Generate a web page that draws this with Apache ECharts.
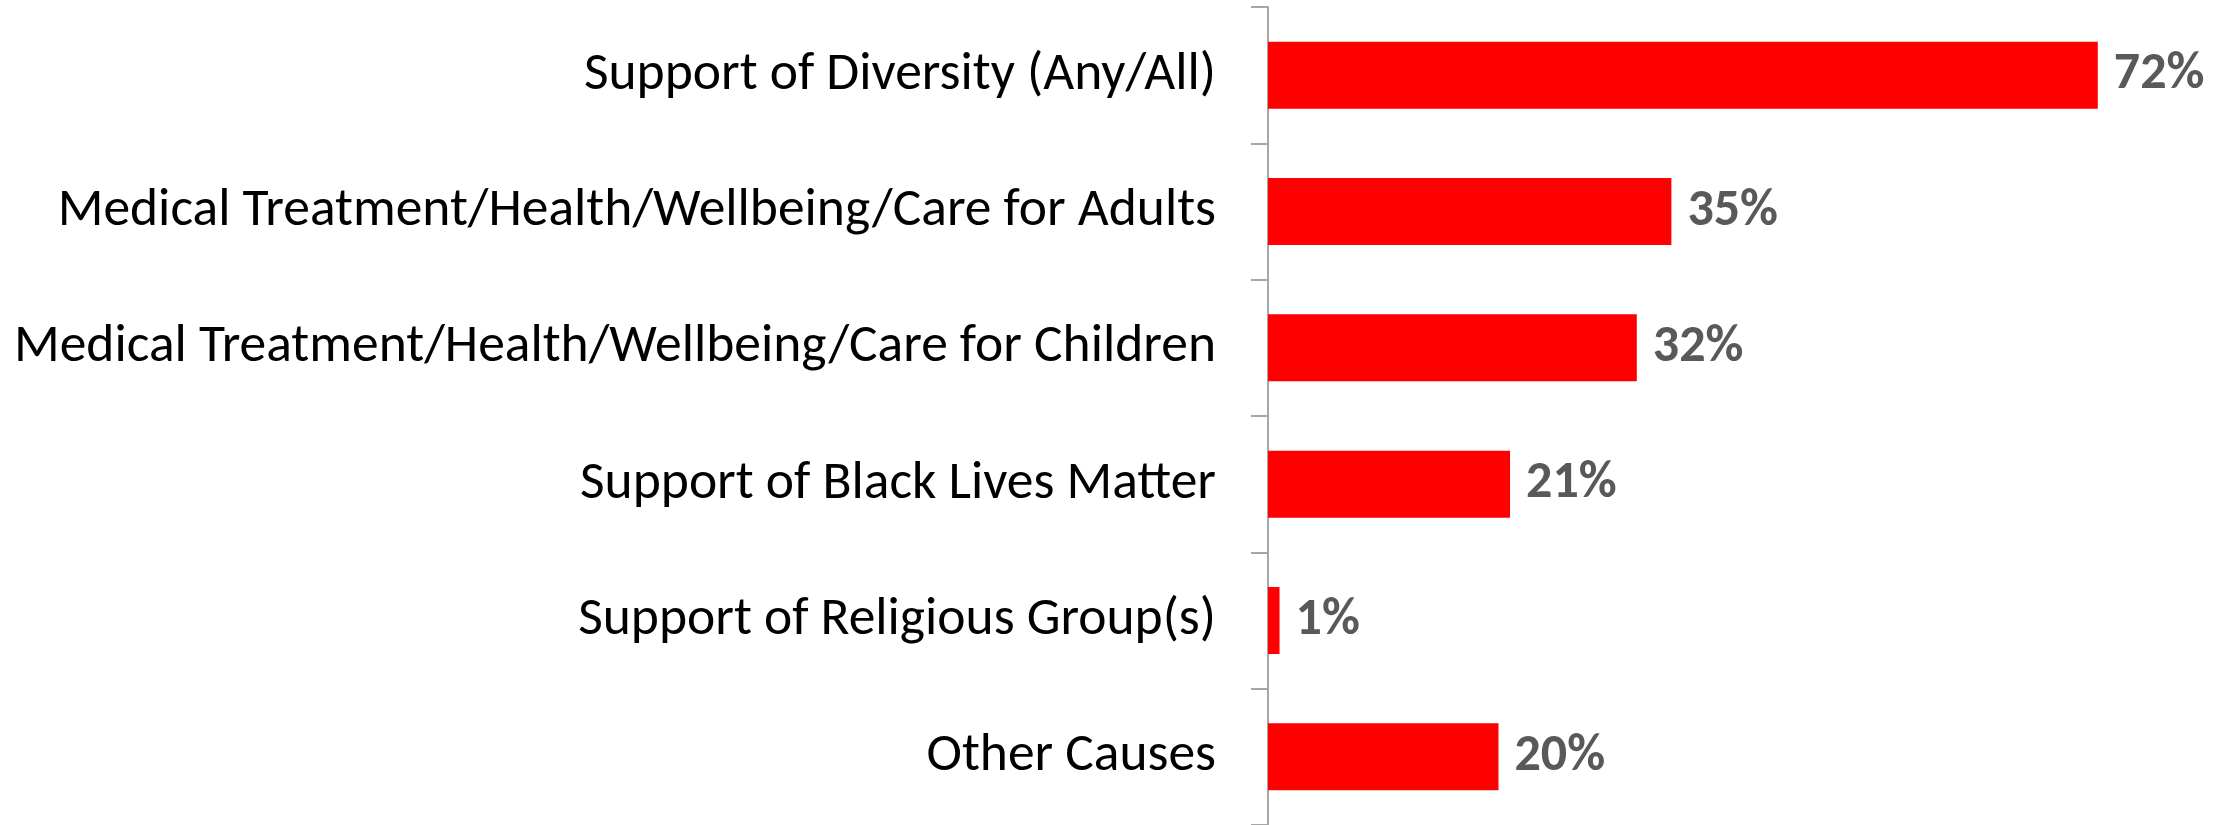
<!DOCTYPE html>
<html>
<head>
<meta charset="utf-8">
<script src="https://cdn.jsdelivr.net/npm/echarts@6/dist/echarts.min.js"></script>
<style>
html,body{margin:0;padding:0;background:#fff;}
#chart{width:2226px;height:825px;}
</style>
</head>
<body>
<div id="chart"></div>
<script>
const categories = [
  "Support of Diversity (Any/All)",
  "Medical Treatment/Health/Wellbeing/Care for Adults",
  "Medical Treatment/Health/Wellbeing/Care for Children",
  "Support of Black Lives Matter",
  "Support of Religious Group(s)",
  "Other Causes"
];
const values = [72, 35, 32, 21, 1, 20];

const chart = echarts.init(document.getElementById('chart'), null, {renderer: 'canvas'});
chart.setOption({
  animation: false,
  backgroundColor: '#ffffff',
  grid: { left: 1268, width: 922, top: 7, bottom: -3, containLabel: false },
  xAxis: {
    type: 'value', min: 0, max: 80,
    show: false
  },
  yAxis: {
    type: 'category',
    data: categories,
    inverse: true,
    axisLine: { show: true, lineStyle: { color: '#A6A6A6', width: 2 } },
    axisTick: { show: true, length: 17, lineStyle: { color: '#A6A6A6', width: 2 } },
    axisLabel: {
      margin: 52,
      color: '#000000',
      fontFamily: "Calibri, Carlito, 'Open Sans', sans-serif",
      fontSize: 53.5
    },
    splitLine: { show: false }
  },
  series: [{
    type: 'bar',
    data: values,
    barWidth: 67,
    itemStyle: { color: '#FF0000' },
    label: {
      show: true,
      position: 'right',
      distance: 16,
      formatter: '{c}%',
      color: '#595959',
      fontWeight: 'bold',
      fontFamily: "Calibri, Carlito, 'Open Sans', sans-serif",
      fontSize: 52
    }
  }]
});
</script>
</body>
</html>
